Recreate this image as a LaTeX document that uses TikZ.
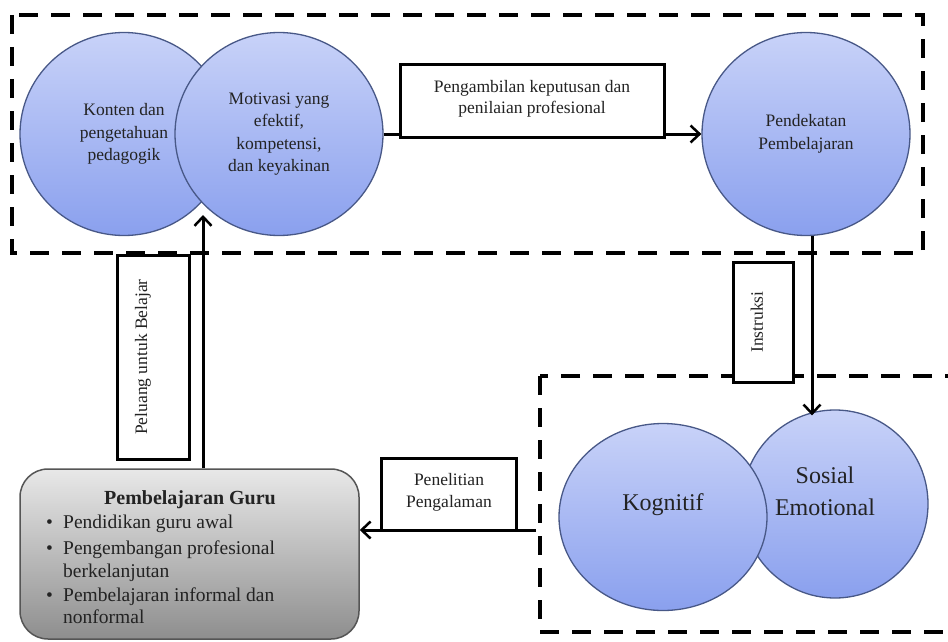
\documentclass[tikz,border=0pt]{standalone}
\usepackage{fontspec}
\setmainfont{Liberation Serif}
\usetikzlibrary{arrows.meta,shapes.geometric}

\definecolor{circTop}{RGB}{200,210,248}
\definecolor{circBot}{RGB}{138,160,238}
\definecolor{circEdge}{RGB}{72,88,135}
\definecolor{guruTop}{RGB}{232,232,232}
\definecolor{guruBot}{RGB}{142,142,142}
\definecolor{guruEdge}{RGB}{85,85,85}
\definecolor{ink}{RGB}{35,35,35}

\begin{document}
\begin{tikzpicture}[x=1pt,y=-1pt,
  bubble/.style={ellipse, draw=circEdge, line width=1.3pt, top color=circTop,
    bottom color=circBot, inner sep=0pt, align=center, text=ink,
    font=\fontsize{17.5}{22.5}\selectfont},
  bigtext/.style={align=center, text=ink, inner sep=0pt,
    font=\fontsize{24}{32}\selectfont},
  frame/.style={draw, line width=4pt, dash pattern=on 19pt off 13pt},
  conn/.style={line width=3pt,
    -{Straight Barb[length=9pt,width=17pt,line width=2.5pt]}},
  tag/.style={draw, line width=3pt, fill=white, inner sep=0pt},
  tagtext/.style={align=center, inner sep=0pt, text=ink,
    font=\fontsize{17.5}{21.5}\selectfont},
  gline/.style={anchor=west, inner sep=0pt, text=ink,
    font=\fontsize{19.5}{23.5}\selectfont, text height=13pt, text depth=4.5pt},
]
\useasboundingbox (0,0) rectangle (948,642);
\fill[white] (0,0) rectangle (948,642);

% dashed group frames
\draw[frame] (12,15) rectangle (923,253);
\draw[frame] (540,376) rectangle (960,632);

% upper row of circles
\node[bubble, minimum width=208pt, minimum height=203pt] (kon) at (124,134)
  {Konten dan\\pengetahuan\\pedagogik};
\node[bubble, minimum width=208pt, minimum height=203pt] (mot) at (279,134)
  {Motivasi yang\\efektif,\\kompetensi,\\dan keyakinan};
\node[bubble, minimum width=208pt, minimum height=203pt] (pend) at (806,134)
  {Pendekatan\\Pembelajaran};

% lower pair of circles
\node[bubble, minimum width=186pt, minimum height=188pt] (sos) at (835,504) {};
\node[bubble, minimum width=208pt, minimum height=187pt] (kog) at (663,517) {};
\node[bigtext] (kogtxt) at (663,505) {Kognitif};
\node[bigtext] (sostxt) at (825,491) {Sosial\\Emotional};

% teacher learning box
\node[draw=guruEdge, line width=1.5pt, rounded corners=28pt, top color=guruTop,
  bottom color=guruBot, minimum width=339pt, minimum height=170pt] (guru)
  at (189.5,554) {};
\node[text=ink, inner sep=0pt, font=\bfseries\fontsize{20}{24}\selectfont]
  (gurutitle) at (190,500) {Pembelajaran Guru};
\node[gline] (b1) at (46,524) {\textbullet};
\node[gline] (l1) at (63,524) {Pendidikan guru awal};
\node[gline] (b2) at (46,550) {\textbullet};
\node[gline] (l2) at (63,550) {Pengembangan profesional};
\node[gline] (l3) at (63,573) {berkelanjutan};
\node[gline] (b3) at (46,597) {\textbullet};
\node[gline] (l4) at (63,597) {Pembelajaran informal dan};
\node[gline] (l5) at (63,619) {nonformal};

% connectors
\coordinate (meet) at (203,215);
\coordinate (drop) at (812,0);
\coordinate (pstart) at (536,530);
\draw[conn] (mot.east) -- (pend.west);
\draw[conn] (pend.south -| drop) -- ([yshift=-6pt]sos.north -| drop);
\draw[conn] (pstart) -- (pstart -| guru.east);
\draw[conn] (guru.north -| meet) -- (meet);

% connector labels
\node[tag, minimum width=264pt, minimum height=72pt] (tagA) at (532,101) {};
\node[tagtext] (tagAtxt) at (532,99)
  {Pengambilan keputusan dan\\penilaian profesional};
\node[tag, minimum width=60pt, minimum height=120pt] (tagB) at (763,322) {};
\node[tagtext, rotate=90] (tagBtxt) at (757,322) {Instruksi};
\node[tag, minimum width=72pt, minimum height=204pt] (tagC) at (153,357) {};
\node[tagtext, rotate=90] (tagCtxt) at (143,357) {Peluang untuk Belajar};
\node[tag, minimum width=135pt, minimum height=72pt] (tagD) at (448.5,494) {};
\node[tagtext] (tagDtxt) at (449,492.5) {Penelitian\\Pengalaman};
\end{tikzpicture}
\end{document}
